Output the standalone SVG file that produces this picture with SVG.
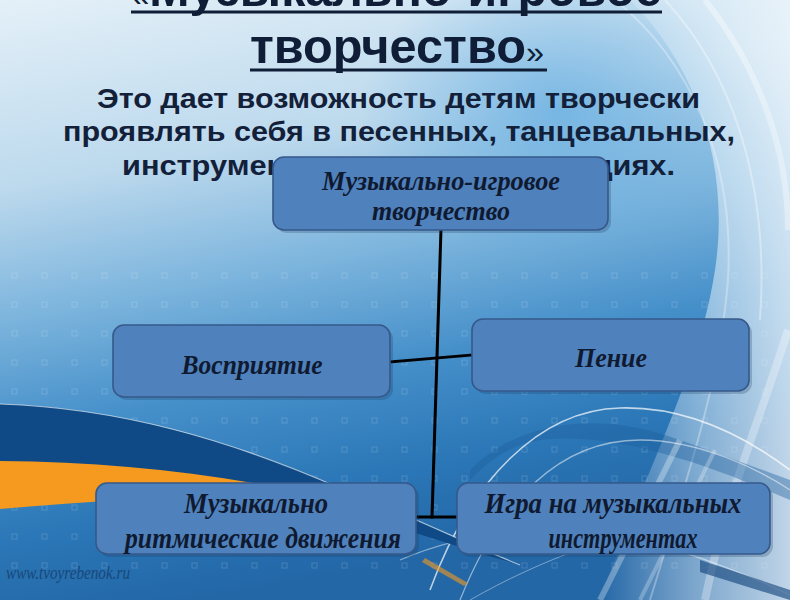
<svg xmlns="http://www.w3.org/2000/svg" width="800" height="600" viewBox="0 0 800 600">
<defs>
<linearGradient id="bg" x1="0" y1="0" x2="0.25" y2="1">
<stop offset="0" stop-color="#e4f0f8"/>
<stop offset="0.3" stop-color="#bcd9ed"/>
<stop offset="0.5" stop-color="#7db5dd"/>
<stop offset="0.68" stop-color="#4690ca"/>
<stop offset="0.85" stop-color="#2b77b7"/>
<stop offset="1" stop-color="#2367a7"/>
</linearGradient>
<radialGradient id="glow" cx="0.5" cy="0.5" r="0.5">
<stop offset="0" stop-color="#5eaae0" stop-opacity="0.7"/>
<stop offset="1" stop-color="#5eaae0" stop-opacity="0"/>
</radialGradient>
<linearGradient id="mesh" x1="0" y1="0" x2="1" y2="0">
<stop offset="0" stop-color="#ffffff" stop-opacity="0"/>
<stop offset="0.5" stop-color="#eaf4fb" stop-opacity="0.45"/>
<stop offset="1" stop-color="#f4f9fd" stop-opacity="0.75"/>
</linearGradient>
<pattern id="dots" width="30" height="29" patternUnits="userSpaceOnUse">
<rect x="12" y="12" width="5" height="5" fill="none" stroke="#ffffff" stroke-opacity="0.15" stroke-width="1"/>
</pattern>
<style>
.title{font-family:"Liberation Sans",Arial,sans-serif;font-weight:bold;fill:#0f1e36}
.sub{font-family:"Liberation Sans",Arial,sans-serif;font-weight:bold;font-size:27px;fill:#13203a}
.node rect.box{fill:#4f81bd;stroke:#36598a;stroke-width:1.6}
.node rect.sh{fill:#1b3a60;opacity:0.25}
.lbl{font-family:"Liberation Serif","Times New Roman",serif;font-weight:bold;font-style:italic;fill:#0f1a30;text-anchor:middle}
.conn line{stroke:#000;stroke-width:3;stroke-linecap:square}
.sw{fill:none;stroke:#ffffff}
</style>
</defs>

<!-- background -->
<rect x="0" y="0" width="800" height="600" fill="url(#bg)"/>
<ellipse cx="560" cy="110" rx="200" ry="150" fill="url(#glow)"/>
<rect x="0" y="250" width="790" height="330" fill="url(#dots)"/>
<!-- right light mesh -->
<path d="M630,0 C700,70 730,170 715,270 C700,370 650,460 600,600 L790,600 L790,0 Z" fill="url(#mesh)"/>
<path class="sw" d="M615,0 C690,60 735,160 728,280 C720,380 690,470 650,600" stroke-opacity="0.3" stroke-width="2"/>
<path class="sw" d="M665,0 C730,70 770,180 760,320" stroke-opacity="0.35" stroke-width="2"/>
<path class="sw" d="M705,0 C760,70 788,150 788,230" stroke-opacity="0.35" stroke-width="6"/>
<path class="sw" d="M788,330 C760,420 725,500 705,600" stroke-opacity="0.3" stroke-width="8"/>
<!-- lower arcs -->
<path d="M470,470 C520,420 600,410 680,440 L790,480 L790,500 C720,470 620,430 540,440 C510,445 490,460 470,480 Z" fill="#1f5f9e" opacity="0.4"/>
<path class="sw" d="M430,590 C470,480 540,410 620,408 C690,406 750,440 790,470" stroke-opacity="0.7" stroke-width="1.6"/>
<path class="sw" d="M460,600 C500,500 560,440 640,440 C700,440 760,470 790,490" stroke-opacity="0.5" stroke-width="1.3"/>
<path class="sw" d="M400,560 C470,530 560,520 640,540 C700,555 760,580 790,595" stroke-opacity="0.45" stroke-width="1.3"/>
<path class="sw" d="M470,600 C540,560 620,530 700,520" stroke-opacity="0.4" stroke-width="1"/>
<path class="sw" d="M600,600 L680,440" stroke-opacity="0.3" stroke-width="6"/>
<path class="sw" d="M640,600 L715,450" stroke-opacity="0.25" stroke-width="4"/>
<path d="M425,558 L468,583 L464,586 L422,562 Z" fill="#f39a1e" opacity="0.6"/>
<path d="M700,560 L790,590 L790,600 L700,572 Z" fill="#0d3f78" opacity="0.6"/>
<!-- dark navy swoosh and orange band -->
<path d="M0,404 C120,408 230,440 340,488 C420,520 470,545 520,565 C450,545 380,520 300,500 C200,478 100,470 0,468 Z" fill="#0f4a86"/>
<path class="sw" d="M0,404 C120,408 230,440 340,488 C420,520 470,545 520,565" stroke-opacity="0.6" stroke-width="1.2"/>
<path d="M0,461 C100,462 190,470 290,490 C200,496 100,500 0,509 Z" fill="#f59a1f"/>
<rect x="790" y="0" width="10" height="600" fill="#ffffff"/>
<text x="6" y="579" font-family="Liberation Serif, serif" font-style="italic" font-size="19" fill="#143f6e" opacity="0.8" textLength="124" lengthAdjust="spacingAndGlyphs">www.tvoyrebenok.ru</text>

<!-- title -->
<g id="title">
<text class="title" x="131" y="6" font-size="50" textLength="531" lengthAdjust="spacingAndGlyphs"><tspan font-size="34" style="font-weight:normal">«</tspan>Музыкально-игровое</text>
<line x1="131" y1="12" x2="662" y2="12" stroke="#0f1e36" stroke-width="3"/>
<text class="title" x="250" y="63" font-size="48" textLength="294" lengthAdjust="spacingAndGlyphs">творчество<tspan font-size="32" style="font-weight:normal">»</tspan></text>
<line x1="250" y1="70" x2="547" y2="70" stroke="#0f1e36" stroke-width="3"/>
</g>
<g id="subtitle">
<text class="sub" x="97" y="108" textLength="603" lengthAdjust="spacingAndGlyphs">Это дает возможность детям творчески</text>
<text class="sub" x="63" y="141" textLength="672" lengthAdjust="spacingAndGlyphs">проявлять себя в песенных, танцевальных,</text>
<text class="sub" x="122" y="175" textLength="553" lengthAdjust="spacingAndGlyphs">инструментальных импровизациях.</text>
</g>

<!-- connectors -->
<g id="connectors" class="conn">
<line x1="441" y1="229" x2="432" y2="517"/>
<line x1="390" y1="362" x2="472" y2="355"/>
<line x1="417" y1="517" x2="457" y2="517"/>
</g>

<!-- nodes -->
<g id="node-top" class="node">
<rect class="sh" x="276" y="160" width="335" height="73" rx="11"/>
<rect class="box" x="273" y="157" width="335" height="73" rx="11"/>
<text class="lbl" x="441" y="190" font-size="27" textLength="238" lengthAdjust="spacingAndGlyphs">Музыкально-игровое</text>
<text class="lbl" x="441" y="220" font-size="27" textLength="138" lengthAdjust="spacingAndGlyphs">творчество</text>
</g>
<g id="node-perception" class="node">
<rect class="sh" x="116" y="328" width="277" height="72" rx="11"/>
<rect class="box" x="113" y="325" width="277" height="72" rx="11"/>
<text class="lbl" x="252" y="374" font-size="27" textLength="141" lengthAdjust="spacingAndGlyphs">Восприятие</text>
</g>
<g id="node-singing" class="node">
<rect class="sh" x="475" y="322" width="277" height="72" rx="11"/>
<rect class="box" x="472" y="319" width="277" height="72" rx="11"/>
<text class="lbl" x="611" y="367" font-size="27" textLength="72" lengthAdjust="spacingAndGlyphs">Пение</text>
</g>
<g id="node-rhythm" class="node">
<rect class="sh" x="99" y="486" width="320" height="71" rx="11"/>
<rect class="box" x="96" y="483" width="320" height="71" rx="11"/>
<text class="lbl" x="256" y="513" font-size="29" textLength="144" lengthAdjust="spacingAndGlyphs">Музыкально</text>
<text class="lbl" x="263" y="548" font-size="29" textLength="276" lengthAdjust="spacingAndGlyphs">ритмические  движения</text>
</g>
<g id="node-instruments" class="node">
<rect class="sh" x="460" y="486" width="313" height="71" rx="11"/>
<rect class="box" x="457" y="483" width="313" height="71" rx="11"/>
<text class="lbl" x="613" y="513" font-size="29" textLength="257" lengthAdjust="spacingAndGlyphs">Игра на музыкальных</text>
<text class="lbl" x="623" y="548" font-size="29" textLength="149" lengthAdjust="spacingAndGlyphs">инструментах</text>
</g>
</svg>
